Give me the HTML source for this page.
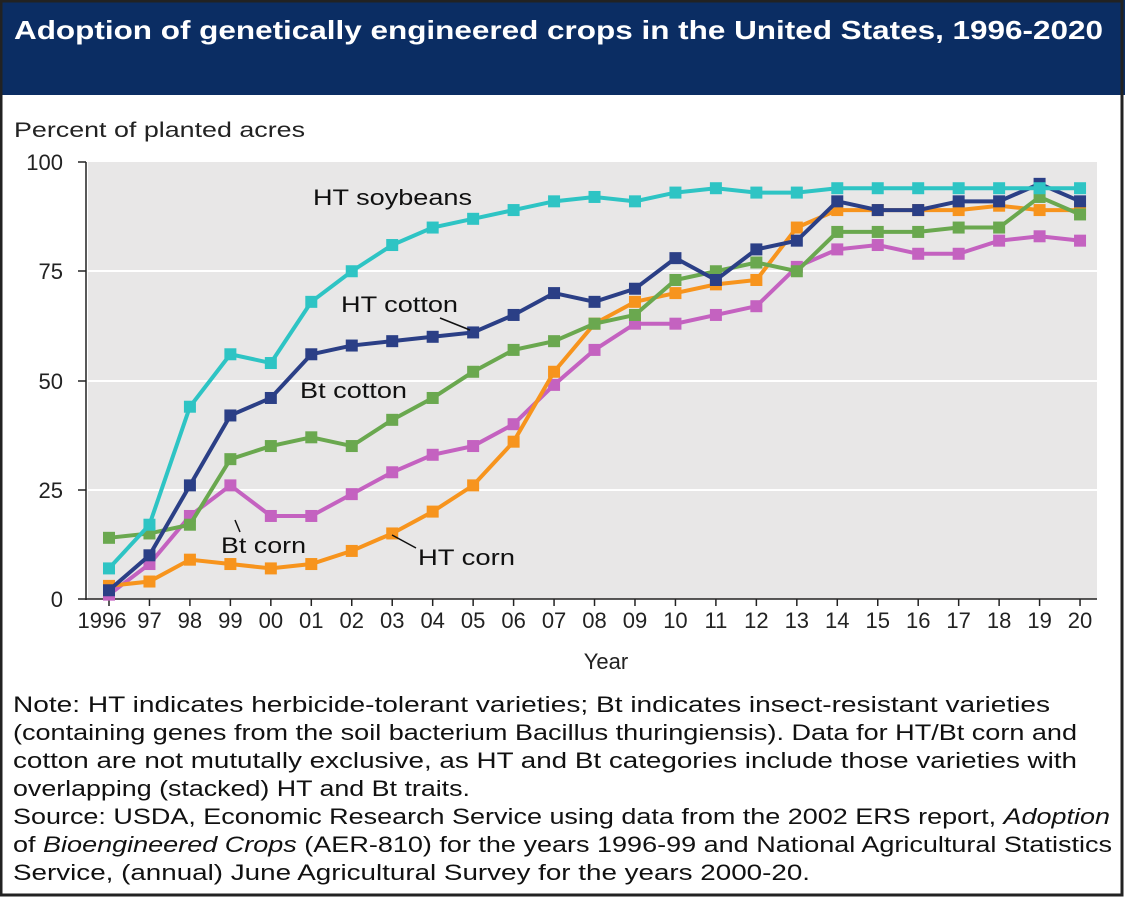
<!DOCTYPE html>
<html><head><meta charset="utf-8"><style>
body{margin:0;width:1125px;height:897px;overflow:hidden;background:#fff;font-family:"Liberation Sans",sans-serif;}
</style></head><body>
<svg width="1125" height="897" xmlns="http://www.w3.org/2000/svg" font-family="Liberation Sans, sans-serif">
<rect x="0" y="0" width="1125" height="897" fill="#fff"/>
<rect x="0" y="0" width="1125" height="95" fill="#0b2d63"/>
<rect x="1" y="1" width="1121" height="894" fill="none" stroke="#222" stroke-width="3"/>
<text x="14" y="39" font-size="26" font-weight="bold" fill="#fff" textLength="1089" lengthAdjust="spacingAndGlyphs">Adoption of genetically engineered crops in the United States, 1996-2020</text>
<text x="14" y="137" font-size="21" fill="#222" textLength="291" lengthAdjust="spacingAndGlyphs">Percent of planted acres</text>
<rect x="88" y="162" width="1009" height="437" fill="#e8e7e7"/>
<g stroke="#fff" stroke-width="2"><line x1="88" y1="271" x2="1097" y2="271"/><line x1="88" y1="381" x2="1097" y2="381"/><line x1="88" y1="490" x2="1097" y2="490"/></g>
<g stroke="#222" stroke-width="1.5"><line x1="86" y1="162" x2="86" y2="600"/><line x1="86" y1="599" x2="1097" y2="599"/>
<line x1="78" y1="162" x2="86" y2="162"/><line x1="78" y1="271" x2="86" y2="271"/><line x1="78" y1="381" x2="86" y2="381"/><line x1="78" y1="490" x2="86" y2="490"/><line x1="78" y1="599" x2="86" y2="599"/></g>
<g font-size="22" fill="#222" text-anchor="end"><text x="63" y="170">100</text><text x="63" y="279">75</text><text x="63" y="389">50</text><text x="63" y="498">25</text><text x="63" y="607">0</text></g>
<g id="xt" font-size="22" fill="#222" text-anchor="middle"></g>
<text x="606" y="669" font-size="22" fill="#222" text-anchor="middle">Year</text>
<g id="series"></g>
<g font-size="22" fill="#111">
<text x="313" y="205" textLength="159" lengthAdjust="spacingAndGlyphs">HT soybeans</text>
<text x="341" y="312" textLength="117" lengthAdjust="spacingAndGlyphs">HT cotton</text>
<line x1="440" y1="318" x2="470" y2="330" stroke="#111" stroke-width="1.5"/>
<text x="300" y="398" textLength="107" lengthAdjust="spacingAndGlyphs">Bt cotton</text>
<text x="221" y="553" textLength="85" lengthAdjust="spacingAndGlyphs">Bt corn</text>
<line x1="240" y1="532" x2="235" y2="520" stroke="#111" stroke-width="1.5"/>
<text x="418" y="565" textLength="97" lengthAdjust="spacingAndGlyphs">HT corn</text>
<line x1="416" y1="548" x2="392" y2="535" stroke="#111" stroke-width="1.5"/>
</g>
<g font-size="22" fill="#111" lengthAdjust="spacingAndGlyphs">
<text x="13" y="712" textLength="1037" lengthAdjust="spacingAndGlyphs">Note: HT indicates herbicide-tolerant varieties; Bt indicates insect-resistant varieties</text>
<text x="13" y="740" textLength="1064" lengthAdjust="spacingAndGlyphs">(containing genes from the soil bacterium Bacillus thuringiensis). Data for HT/Bt corn and</text>
<text x="13" y="768" textLength="1064" lengthAdjust="spacingAndGlyphs">cotton are not mututally exclusive, as HT and Bt categories include those varieties with</text>
<text x="13" y="796" textLength="457" lengthAdjust="spacingAndGlyphs">overlapping (stacked) HT and Bt traits.</text>
<text x="13" y="824" textLength="1097" lengthAdjust="spacingAndGlyphs">Source: USDA, Economic Research Service using data from the 2002 ERS report, <tspan font-style="italic">Adoption</tspan></text>
<text x="13" y="852" textLength="1099" lengthAdjust="spacingAndGlyphs">of <tspan font-style="italic">Bioengineered Crops</tspan> (AER-810) for the years 1996-99 and National Agricultural Statistics</text>
<text x="13" y="880" textLength="797" lengthAdjust="spacingAndGlyphs">Service, (annual) June Agricultural Survey for the years 2000-20.</text>
</g>
</svg>
<script>
const ns="http://www.w3.org/2000/svg";
const X=i=>109+i*40.46, Y=v=>599-v*4.37;
const xt=document.getElementById('xt');
const labs=["1996","97","98","99","00","01","02","03","04","05","06","07","08","09","10","11","12","13","14","15","16","17","18","19","20"];
labs.forEach((l,i)=>{const t=document.createElementNS(ns,'text');t.setAttribute('x',i==0?102:X(i));t.setAttribute('y',628);t.textContent=l;xt.appendChild(t);
const tk=document.createElementNS(ns,'line');tk.setAttribute('x1',X(i));tk.setAttribute('x2',X(i));tk.setAttribute('y1',599);tk.setAttribute('y2',606);tk.setAttribute('stroke','#222');tk.setAttribute('stroke-width','1.5');xt.parentNode.insertBefore(tk,xt);});
const S=[
["#c462c0",[1,8,19,26,19,19,24,29,33,35,40,49,57,63,63,65,67,76,80,81,79,79,82,83,82]],
["#f7941d",[3,4,9,8,7,8,11,15,20,26,36,52,63,68,70,72,73,85,89,89,89,89,90,89,89]],
["#6aa84f",[14,15,17,32,35,37,35,41,46,52,57,59,63,65,73,75,77,75,84,84,84,85,85,92,88]],
["#2b3f86",[2,10,26,42,46,56,58,59,60,61,65,70,68,71,78,73,80,82,91,89,89,91,91,95,91]],
["#2ec4c4",[7,17,44,56,54,68,75,81,85,87,89,91,92,91,93,94,93,93,94,94,94,94,94,94,94]]];
const g=document.getElementById('series');
S.forEach(([c,d])=>{const p=document.createElementNS(ns,'polyline');p.setAttribute('points',d.map((v,i)=>X(i)+','+Y(v)).join(' '));p.setAttribute('fill','none');p.setAttribute('stroke',c);p.setAttribute('stroke-width','4');g.appendChild(p);
d.forEach((v,i)=>{const r=document.createElementNS(ns,'rect');r.setAttribute('x',X(i)-6);r.setAttribute('y',Y(v)-6);r.setAttribute('width',12);r.setAttribute('height',12);r.setAttribute('fill',c);g.appendChild(r);});});
</script>
</body></html>
